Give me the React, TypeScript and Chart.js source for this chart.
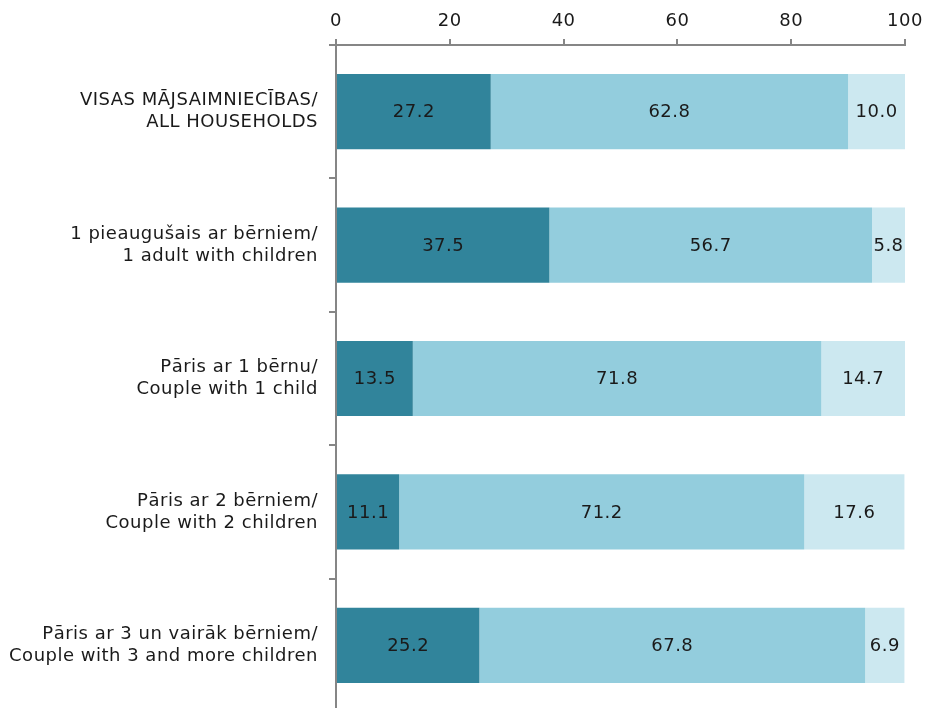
import React, { useEffect, useRef } from "react";
import { Chart, registerables } from "chart.js";

Chart.register(...registerables);

const categories: string[][] = [
  ["VISAS MĀJSAIMNIECĪBAS/", "ALL HOUSEHOLDS"],
  ["1 pieaugušais ar bērniem/", "1 adult with children"],
  ["Pāris ar 1 bērnu/", "Couple with 1 child"],
  ["Pāris ar 2 bērniem/", "Couple with 2 children"],
  ["Pāris ar 3 un vairāk bērniem/", "Couple with 3 and more children"],
];
const series1 = [27.2, 37.5, 13.5, 11.1, 25.2];
const series2 = [62.8, 56.7, 71.8, 71.2, 67.8];
const series3 = [10.0, 5.8, 14.7, 17.6, 6.9];
const xTicks = [0, 20, 40, 60, 80, 100];

const FONT = "'DejaVu Sans', Verdana, sans-serif";
const FS = 18;
const AXIS = "#868686";
const SPACING = "0.5px";

const spacingPlugin = {
  id: "spacing",
  beforeDraw(chart: any) {
    try {
      chart.ctx.letterSpacing = SPACING;
    } catch (e) {}
  },
};

const valueLabels = {
  id: "valueLabels",
  afterDatasetsDraw(chart: any) {
    const ctx = chart.ctx;
    ctx.save();
    ctx.font = `${FS}px ${FONT}`;
    try {
      ctx.letterSpacing = SPACING;
    } catch (e) {}
    ctx.fillStyle = "#1a1a1a";
    ctx.textAlign = "center";
    ctx.textBaseline = "middle";
    chart.data.datasets.forEach((ds: any, di: number) => {
      const meta = chart.getDatasetMeta(di);
      meta.data.forEach((el: any, i: number) => {
        const v = ds.data[i];
        const cx = (el.x + el.base) / 2;
        ctx.fillText(v.toFixed(1), cx, el.y + 1);
      });
    });
    ctx.restore();
  },
};

export default function App() {
  const ref = useRef<HTMLCanvasElement | null>(null);
  useEffect(() => {
    if (!ref.current) return;
    const chart = new Chart(ref.current, {
      type: "bar",
      data: {
        labels: categories as any,
        datasets: [
          { label: "a", data: series1, backgroundColor: "#31849B" },
          { label: "b", data: series2, backgroundColor: "#93CDDD" },
          { label: "c", data: series3, backgroundColor: "#CCE8F0" },
        ],
      },
      options: {
        indexAxis: "y",
        animation: false,
        responsive: false,
        maintainAspectRatio: false,
        layout: { padding: { top: 0, right: 20, bottom: 0, left: 0 } },
        datasets: { bar: { barPercentage: 0.564, categoryPercentage: 1 } },
        plugins: { legend: { display: false }, tooltip: { enabled: false } },
        scales: {
          x: {
            position: "top",
            stacked: true,
            min: 0,
            max: 100,
            afterBuildTicks: (s: any) => {
              s.ticks = xTicks.map((v) => ({ value: v }));
            },
            afterFit: (s: any) => {
              s.height = 45;
              s.paddingLeft = 0;
              s.paddingRight = 0;
            },
            grid: {
              drawOnChartArea: false,
              color: AXIS,
              tickLength: 6,
              lineWidth: 2,
            },
            border: { color: AXIS, width: 2 },
            ticks: {
              color: "#1a1a1a",
              font: { family: FONT, size: FS },
              padding: 7,
              maxRotation: 0,
            },
          },
          y: {
            stacked: true,
            offset: true,
            afterFit: (s: any) => {
              s.width = 336;
              s.paddingTop = 0;
              s.paddingBottom = 0;
            },
            grid: {
              drawOnChartArea: false,
              offset: true,
              color: AXIS,
              tickLength: 7,
              lineWidth: 2,
            },
            border: { color: AXIS, width: 2 },
            ticks: {
              color: "#1a1a1a",
              font: { family: FONT, size: FS, lineHeight: 1.22 },
              padding: 11,
            },
          },
        },
      },
      plugins: [spacingPlugin, valueLabels],
    } as any);
    return () => chart.destroy();
  }, []);
  return (
    <div style={{ position: "absolute", left: 0, top: 0, width: 925, height: 712, background: "#fff", overflow: "hidden" }}>
      <canvas ref={ref} width={925} height={712} style={{ display: "block" }} />
    </div>
  );
}
